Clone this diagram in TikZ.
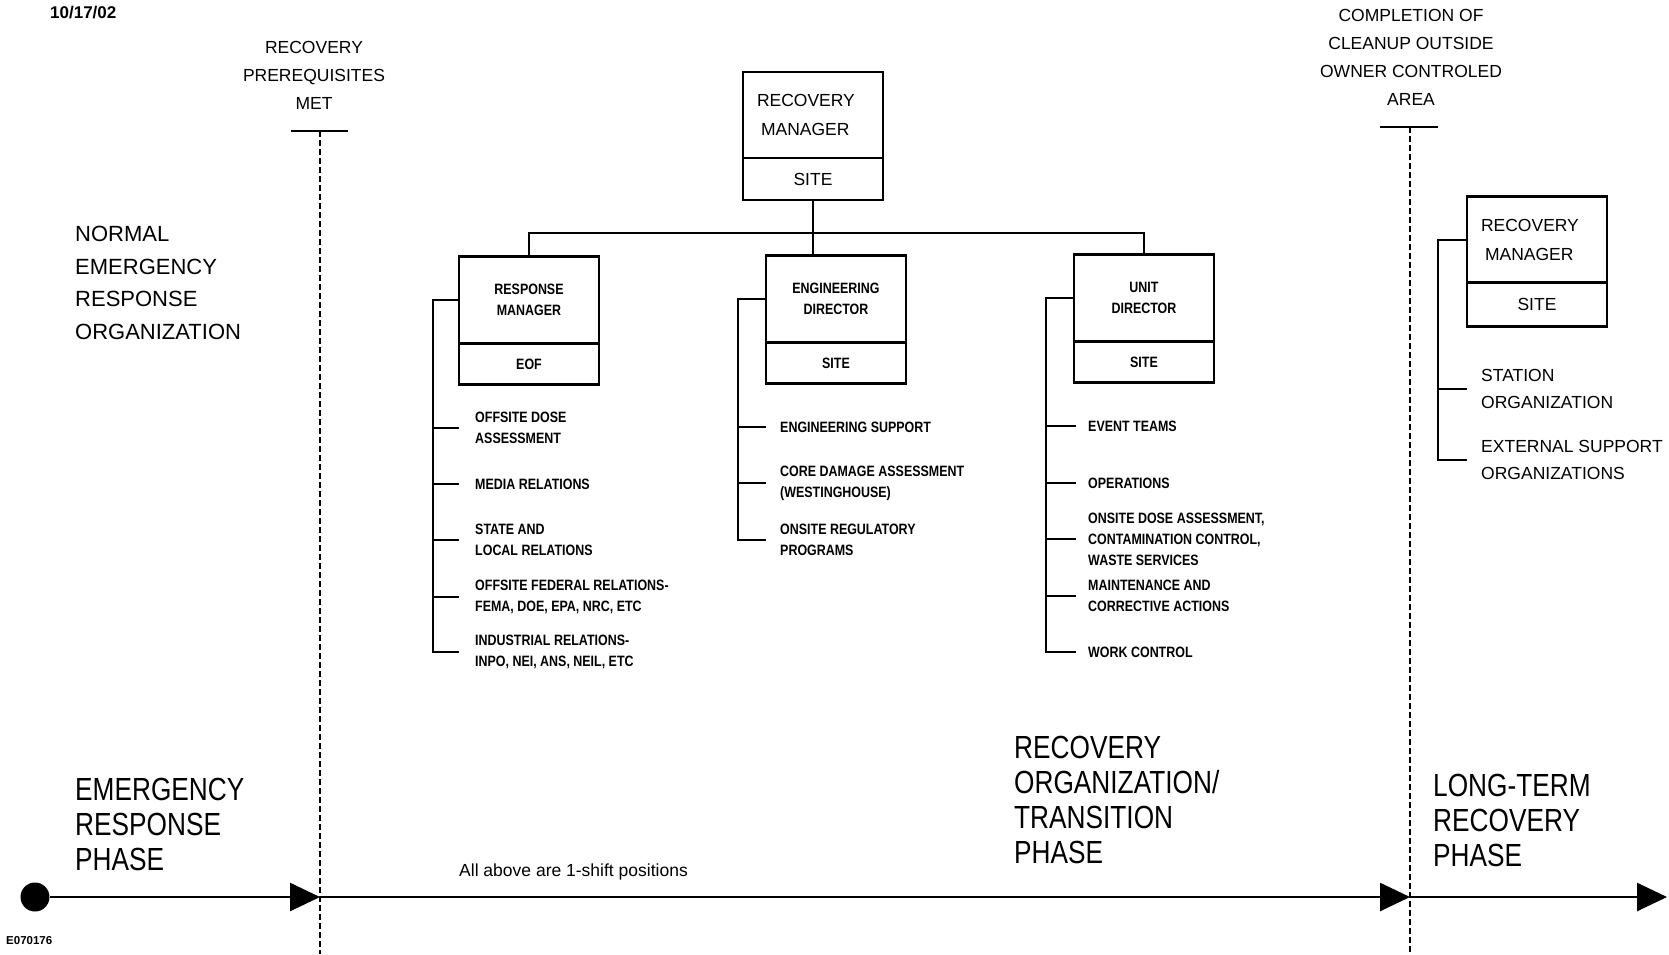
\documentclass[tikz,border=0pt]{standalone}
\usepackage{fontspec}
\setmainfont{Liberation Sans}
\newfontfamily\angosta[FakeStretch=0.83]{Liberation Sans}
\newfontfamily\fasefont[FakeStretch=0.82]{Liberation Sans}
\usetikzlibrary{arrows.meta,positioning}

\begin{document}
\begin{tikzpicture}[x=1pt,y=-1pt,
    caja/.style={draw, line width=2.2pt, outer sep=0pt, inner sep=0pt,
                 minimum width=140pt, align=center},
    cajasup/.style={caja, minimum height=87pt,
                 font=\angosta\bfseries\fontsize{15}{21}\selectfont},
    cajainf/.style={caja, minimum height=41pt,
                 font=\angosta\bfseries\fontsize{15}{21}\selectfont},
    jefesup/.style={caja, minimum height=86pt, text width=112pt, align=left,
                 font=\fontsize{17.5}{29}\selectfont},
    jefeinf/.style={caja, minimum height=42pt,
                 font=\fontsize{17.5}{29}\selectfont},
    elem/.style={anchor=west, align=left, inner sep=0pt,
                 font=\angosta\bfseries\fontsize{15}{21}\selectfont},
    elemg/.style={anchor=west, align=left, inner sep=0pt,
                 font=\fontsize{17.5}{27.5}\selectfont},
    rotulo/.style={align=center, inner sep=0pt,
                 font=\fontsize{17.5}{28}\selectfont},
    fase/.style={anchor=west, align=left, inner sep=0pt,
                 font=\fasefont\fontsize{32}{35}\selectfont},
    rama/.style={line width=2pt},
    hito/.style={line width=2pt, dash pattern=on 6pt off 3pt},
    flecha/.style={line width=2.6pt, -{Triangle[length=30pt,width=28pt]}},
    punto/.style={circle, fill=black, inner sep=0pt, minimum size=29pt}]

    \useasboundingbox (0,0) rectangle (1669,954);

    % Rotulos superiores
    \node[rotulo, anchor=west, font=\bfseries\fontsize{17}{20}\selectfont] (fecha) at (50,13) {10/17/02};
    \node[rotulo] (prereq) at (314,75) {RECOVERY\\PREREQUISITES\\MET};
    \node[rotulo] (limpieza) at (1411,57) {COMPLETION OF\\CLEANUP OUTSIDE\\OWNER CONTROLED\\AREA};
    \node[anchor=west, align=left, inner sep=0pt, font=\fontsize{22}{32.5}\selectfont]
        (normal) at (75,283) {NORMAL\\EMERGENCY\\RESPONSE\\ORGANIZATION};

    % Hitos (lineas punteadas)
    \coordinate (hito1) at (320,131);
    \coordinate (hito2) at (1410,127);
    \coordinate (piso) at (0,954);
    \draw[rama] ([xshift=-29pt]hito1) -- ([xshift=28pt]hito1);
    \draw[rama] ([xshift=-30pt]hito2) -- ([xshift=28pt]hito2);
    \draw[hito] (hito1) -- (hito1 |- piso);
    \draw[hito] (hito2) -- (hito2 |- piso);

    % Organizacion de recuperacion
    \node[jefesup] (mgr) at (813,115) {RECOVERY\\\hspace*{4pt}MANAGER};
    \node[jefeinf, below=0pt of mgr] (mgrl) {SITE};

    \node[cajasup] (resp) at (529,300) {RESPONSE\\MANAGER};
    \node[cajainf, below=0pt of resp] (respl) {EOF};
    \node[cajasup] (eng) at (836,299) {ENGINEERING\\DIRECTOR};
    \node[cajainf, below=0pt of eng] (engl) {SITE};
    \node[cajasup] (unit) at (1144,298) {UNIT\\DIRECTOR};
    \node[cajainf, below=0pt of unit] (unitl) {SITE};

    \coordinate (bus) at (813,233);
    \draw[rama] (resp.north) |- (bus) -| (unit.north);
    \draw[rama] (mgrl.south) -- (mgrl.south |- eng.north);

    % Funciones del response manager
    \node[elem] (r1) at (475,428) {OFFSITE DOSE\\ASSESSMENT};
    \node[elem] (r2) at (475,484) {MEDIA RELATIONS};
    \node[elem] (r3) at (475,540) {STATE AND\\LOCAL RELATIONS};
    \node[elem] (r4) at (475,597) {OFFSITE FEDERAL RELATIONS-\\FEMA, DOE, EPA, NRC, ETC};
    \node[elem] (r5) at (475,652) {INDUSTRIAL RELATIONS-\\INPO, NEI, ANS, NEIL, ETC};
    \coordinate (respine) at (433,0);
    \draw[rama] (resp.west) -| (respine |- r5.west) -- ([xshift=-16pt]r5.west);
    \foreach \n in {r1,r2,r3,r4}
        \draw[rama] (respine |- \n.west) -- ([xshift=-16pt]\n.west);

    % Funciones del engineering director
    \node[elem] (e1) at (780,427) {ENGINEERING SUPPORT};
    \node[elem] (e2) at (780,483) {CORE DAMAGE ASSESSMENT\\(WESTINGHOUSE)};
    \node[elem] (e3) at (780,540) {ONSITE REGULATORY\\PROGRAMS};
    \coordinate (engspine) at (738,0);
    \draw[rama] (eng.west) -| (engspine |- e3.west) -- ([xshift=-14pt]e3.west);
    \foreach \n in {e1,e2}
        \draw[rama] (engspine |- \n.west) -- ([xshift=-14pt]\n.west);

    % Funciones del unit director
    \node[elem] (u1) at (1088,426) {EVENT TEAMS};
    \node[elem] (u2) at (1088,483) {OPERATIONS};
    \node[elem] (u3) at (1088,539) {ONSITE DOSE ASSESSMENT,\\CONTAMINATION CONTROL,\\WASTE SERVICES};
    \node[elem] (u4) at (1088,596) {MAINTENANCE AND\\CORRECTIVE ACTIONS};
    \node[elem] (u5) at (1088,652) {WORK CONTROL};
    \coordinate (unitspine) at (1046,0);
    \draw[rama] (unit.west) -| (unitspine |- u5.west) -- ([xshift=-12pt]u5.west);
    \foreach \n in {u1,u2,u3,u4}
        \draw[rama] (unitspine |- \n.west) -- ([xshift=-12pt]\n.west);

    % Fase de largo plazo
    \node[jefesup] (ltmgr) at (1537,239.5) {RECOVERY\\\hspace*{4pt}MANAGER};
    \node[jefeinf, minimum height=44pt, below=0pt of ltmgr] (ltmgrl) {SITE};
    \node[elemg] (s1) at (1481,389) {STATION\\ORGANIZATION};
    \node[elemg] (s2) at (1481,460) {EXTERNAL SUPPORT\\ORGANIZATIONS};
    \coordinate (ltspine) at (1438,0);
    \draw[rama] (ltmgr.west) -| (ltspine |- s2.west) -- ([xshift=-14pt]s2.west);
    \draw[rama] (ltspine |- s1.west) -- ([xshift=-14pt]s1.west);

    % Fases
    \node[fase] (faseA) at (75,824) {EMERGENCY\\RESPONSE\\PHASE};
    \node[fase] (faseB) at (1014,800) {RECOVERY\\ORGANIZATION/\\TRANSITION\\PHASE};
    \node[fase] (faseC) at (1433,820) {LONG-TERM\\RECOVERY\\PHASE};
    \node[rotulo, anchor=west] (nota) at (459,872) {All above are 1-shift positions};
    \node[anchor=west, inner sep=0pt, font=\bfseries\fontsize{11.5}{13}\selectfont] (codigo) at (6,941) {E070176};

    % Linea de tiempo
    \node[punto] (inicio) at (35,897) {};
    \coordinate (fin) at (1667,897);
    \draw[flecha] (inicio) -- (inicio -| hito1);
    \draw[flecha] (inicio -| hito1) -- (inicio -| hito2);
    \draw[flecha] (inicio -| hito2) -- (fin);
\end{tikzpicture}
\end{document}
